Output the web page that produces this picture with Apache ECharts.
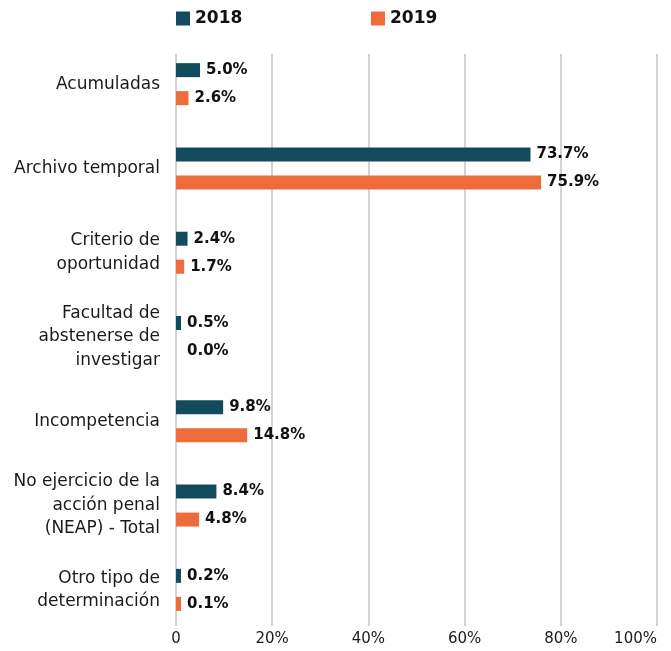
<!DOCTYPE html>
<html>
<head>
<meta charset="utf-8">
<script src="https://cdn.jsdelivr.net/npm/echarts@6/dist/echarts.min.js"></script>
<style>
  html, body { margin: 0; padding: 0; background: #fff; }
  #chart { width: 671px; height: 651px; }
</style>
</head>
<body>
<div id="chart"></div>
<script>
// categories, top to bottom
const categories = [
  'Acumuladas',
  'Archivo temporal',
  'Criterio de\noportunidad',
  'Facultad de\nabstenerse de\ninvestigar',
  'Incompetencia',
  'No ejercicio de la\nacción penal\n(NEAP) - Total',
  'Otro tipo de\ndeterminación'
]
const values2018 = [5.0, 73.7, 2.4, 0.5, 9.8, 8.4, 0.2]
const values2019 = [2.6, 75.9, 1.7, 0.0, 14.8, 4.8, 0.1]
const xTicks = [0, 20, 40, 60, 80, 100]

const FONT = '"DejaVu Sans"'
const color2018 = '#124c5c'
const color2019 = '#ee6b3b'

const chart = echarts.init(document.getElementById('chart'))

const barLabel = {
  show: true,
  position: 'right',
  distance: 6,
  fontFamily: FONT,
  fontWeight: 'bold',
  fontSize: 15,
  color: '#111',
  formatter: p => p.value.toFixed(1) + '%'
}

// zero values get no visible bar (min length would otherwise draw one)
const toData = arr => arr.map(v => v === 0
  ? { value: v, itemStyle: { color: 'rgba(0,0,0,0)' } }
  : v)

const legendText = { fontFamily: FONT, fontWeight: 'bold', fontSize: 17, color: '#111' }

const option = {
  animation: false,
  legend: [
    {
      data: ['2018'], left: 176, top: 10, padding: 0,
      itemWidth: 14, itemHeight: 14, icon: 'rect',
      textStyle: legendText
    },
    {
      data: ['2019'], left: 371, top: 10, padding: 0,
      itemWidth: 14, itemHeight: 14, icon: 'rect',
      textStyle: legendText
    }
  ],
  grid: [
    { left: 176, right: 14, top: 42, bottom: 19 },
    { left: 176, right: 14, top: 54, bottom: 25 }
  ],
  xAxis: [
    {
      gridIndex: 0, type: 'value', min: 0, max: 100, interval: 20,
      axisLabel: { show: false }, axisLine: { show: false }, axisTick: { show: false },
      splitLine: { show: false }
    },
    {
      gridIndex: 1, type: 'value', min: xTicks[0], max: xTicks[xTicks.length - 1], interval: 20,
      axisLine: { show: false }, axisTick: { show: false },
      splitLine: { show: true, lineStyle: { color: '#c4c4c4', width: 1.5 } },
      axisLabel: {
        margin: 6, alignMaxLabel: 'right',
        fontFamily: FONT, fontSize: 15, color: '#1a1a1a',
        formatter: v => v === 0 ? '0' : v + '%'
      }
    }
  ],
  yAxis: [
    {
      gridIndex: 0, type: 'category', data: categories, inverse: true,
      axisLine: { show: false }, axisTick: { show: false },
      axisLabel: {
        margin: 16, fontFamily: FONT, fontSize: 17, color: '#1a1a1a',
        lineHeight: 23.5, align: 'right'
      }
    },
    {
      gridIndex: 1, type: 'value', show: false
    }
  ],
  series: [
    {
      name: '2018', type: 'bar', xAxisIndex: 0, yAxisIndex: 0,
      data: toData(values2018),
      barWidth: 14, barGap: '100%', barMinHeight: 5,
      itemStyle: { color: color2018 },
      label: barLabel
    },
    {
      name: '2019', type: 'bar', xAxisIndex: 0, yAxisIndex: 0,
      data: toData(values2019),
      barWidth: 14, barGap: '100%', barMinHeight: 5,
      itemStyle: { color: color2019 },
      label: barLabel
    }
  ]
}

chart.setOption(option)
window.addEventListener('resize', () => chart.resize())
</script>
</body>
</html>
